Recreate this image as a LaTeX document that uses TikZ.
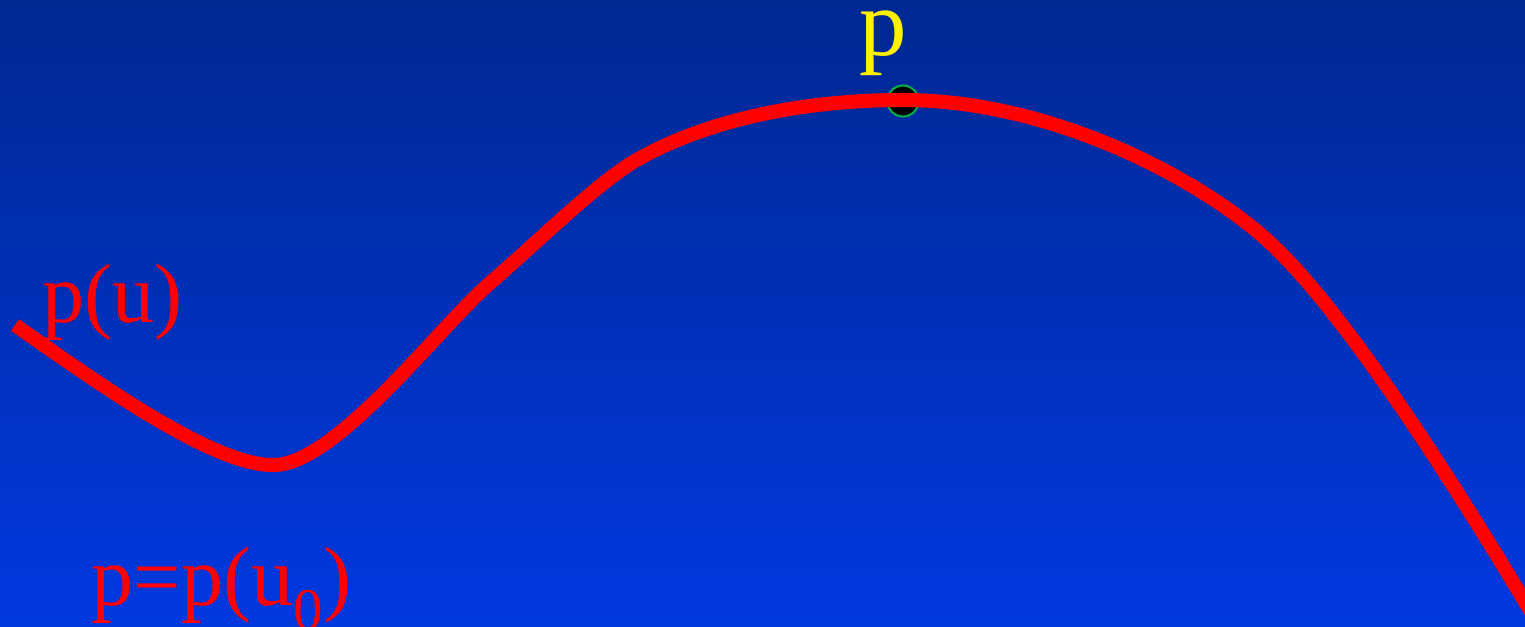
\documentclass[tikz,border=0pt]{standalone}
\usepackage{fontspec}
\setmainfont{Liberation Serif}
\begin{document}
\begin{tikzpicture}[
        x=0.02cm, y=-0.02cm,
        curve/.style={
            draw=red,
            line width=8pt,
            line cap=butt
        },
        label/.style={
            text=red,
            inner sep=0pt,
            anchor=base west,
            font=\fontsize{48}{48}\selectfont
        },
        point/.style={
            circle,
            fill=black,
            draw={rgb,255:red,0;green,170;blue,70},
            line width=1.2pt,
            minimum size=0.62cm,
            inner sep=0pt
        }
    ]
    \definecolor{bgtop}{RGB}{0,40,145}
    \definecolor{bgbottom}{RGB}{0,56,224}
    
    \useasboundingbox (0,0) rectangle (1525,626);
    \clip (0,0) rectangle (1525,626);
    \shade[top color=bgtop, bottom color=bgbottom] (0,0) rectangle (1525,626);
    
    \node[point] (top) at (903,101) {};
    
    % the curve p(u)
    \draw[curve] (15,325) .. controls (110,392) and (215,465) .. (273,465)
        .. controls (335,466) and (440,326) .. (490,283)
        .. controls (540,240) and (600,180) .. (640,158)
        .. controls (720,114) and (820,100) .. (903,100)
        .. controls (1050,100) and (1197,177) .. (1267,240)
        .. controls (1347,312) and (1465,502) .. (1525,602)
        -- (1545,635);
    
    \node[label, text=yellow, font=\fontsize{54}{54}\selectfont] (plabel) at (859,55) {p};
    \node[label] (curvelabel) at (42,322) {p(u)};
    \node[label] (ptlabel) at (91,605) {p=p(u\textsubscript{0})};
    
\end{tikzpicture}
\end{document}
